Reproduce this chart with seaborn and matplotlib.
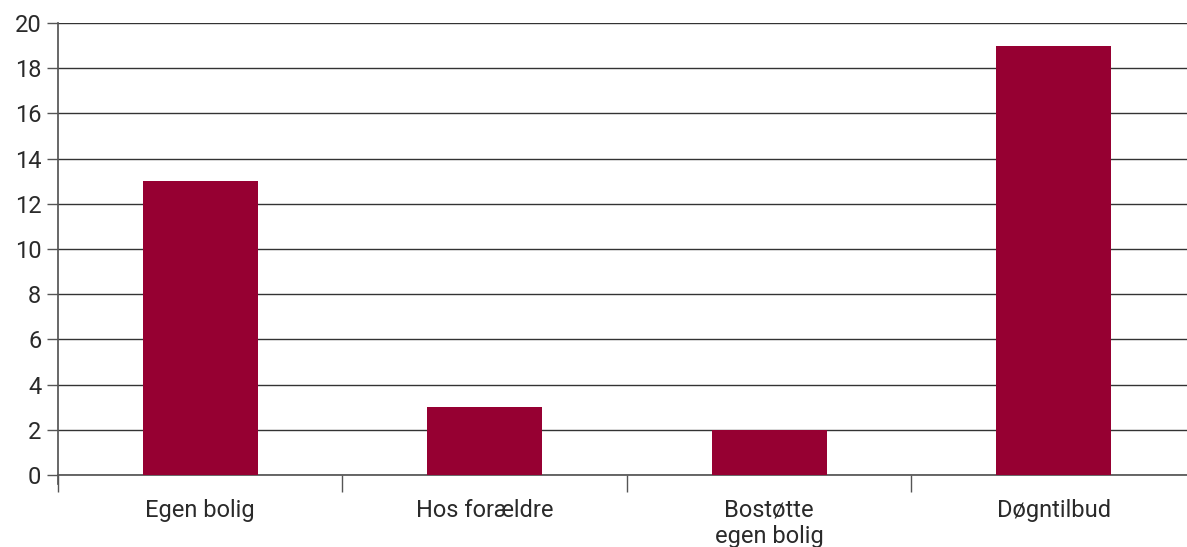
import matplotlib
matplotlib.use("Agg")
import matplotlib.pyplot as plt
import seaborn as sns
import pandas as pd

categories = ["Egen bolig", "Hos forældre", "Bostøtte\negen bolig", "Døgntilbud"]
values = [13, 3, 2, 19]
y_ticks = [0, 2, 4, 6, 8, 10, 12, 14, 16, 18, 20]

sns.set_theme(style="white")
plt.rcParams['font.family'] = ['Roboto', 'DejaVu Sans']

df = pd.DataFrame({"kategori": categories, "antal": values})

fig = plt.figure(figsize=(11.87, 5.47), dpi=100)
ax = fig.add_axes([58 / 1187, 72 / 547, 1138 / 1187, 452 / 547])

sns.barplot(data=df, x="kategori", y="antal", color="#960032", width=0.404,
            saturation=1, linewidth=0, ax=ax, zorder=3)

ax.set_xlim(-0.5, 3.5)
ax.set_ylim(0, 20)
ax.set_yticks(y_ticks)
ax.yaxis.grid(True, color="#333333", linewidth=1, zorder=0)
ax.set_axisbelow(True)
ax.set_xlabel("")
ax.set_ylabel("")

for s in ["top", "right"]:
    ax.spines[s].set_visible(False)
ax.spines["left"].set_color("#555555")
ax.spines["bottom"].set_color("#555555")
ax.spines["left"].set_bounds(-0.4, 20)

# category boundary ticks on x-axis
ax.set_xticks([-0.5, 0.5, 1.5, 2.5], minor=True)
ax.tick_params(axis="x", which="minor", bottom=True, direction="out", length=12,
               width=1, color="#555555")
ax.tick_params(axis="x", which="major", bottom=False, length=0, pad=17,
               labelsize=17, labelcolor="#2a2a2a")
ax.tick_params(axis="y", direction="out", length=8, width=1, color="#555555",
               labelsize=17, labelcolor="#2a2a2a", pad=4, left=True)
for lbl in ax.get_xticklabels():
    lbl.set_linespacing(1.2)

fig.savefig("out.png", dpi=100)
